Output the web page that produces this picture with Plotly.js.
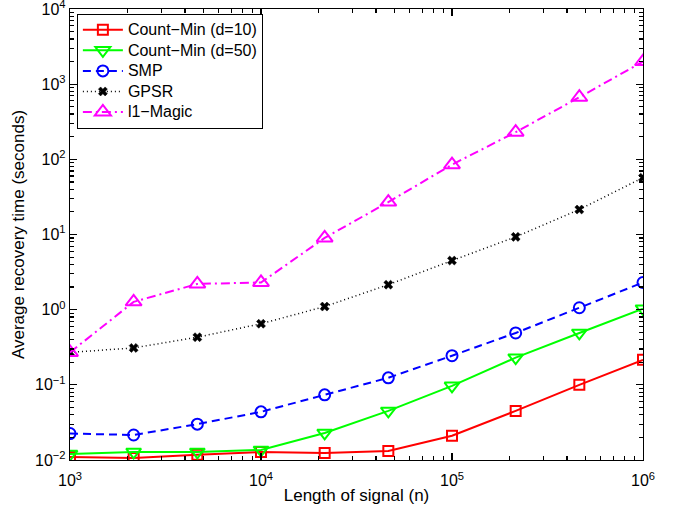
<!DOCTYPE html>
<html><head><meta charset="utf-8">
<script src="https://cdn.plot.ly/plotly-3.0.1.min.js"></script>
<style>body{margin:0;background:#fff}#c{width:678px;height:510px}
.legendtext{font-size:16px !important}</style>
</head><body><div id="c"></div>
<script>
const n = [1000, 2154, 4642, 10000, 21544, 46416, 100000, 215443, 464159, 1000000];
const cm10 = [0.0110, 0.0106, 0.0117, 0.0128, 0.0124, 0.0132, 0.021, 0.045, 0.100, 0.215];
const cm50 = [0.0120, 0.0128, 0.0128, 0.0136, 0.0229, 0.045, 0.097, 0.23, 0.49, 1.03];
const smp = [0.0225, 0.0215, 0.030, 0.0437, 0.0736, 0.124, 0.244, 0.49, 1.06, 2.3];
const gpsr = [0.27, 0.31, 0.43, 0.65, 1.1, 2.15, 4.5, 9.3, 21.5, 57];
const l1magic = [0.27, 1.27, 2.2, 2.3, 9.0, 27, 85, 230, 670, 2000];
const names = ['Count\u2212Min (d=10)', 'Count\u2212Min (d=50)', 'SMP', 'GPSR', 'l1\u2212Magic'];
const xExp = [3, 4, 5, 6];
const yExp = [-2, -1, 0, 1, 2, 3, 4];

const F = 'Liberation Sans, Arial, sans-serif';
function lab(e) { return '10<sup>' + (e < 0 ? '\u2212' + (-e) : e) + '</sup>'; }
function minors(exps) {
  const out = [];
  for (let i = 0; i < exps.length - 1; i++)
    for (let k = 2; k <= 9; k++) out.push(k * Math.pow(10, exps[i]));
  return out;
}
function tr(y, name, color, dash, width, symbol, msize, mline) {
  return {x: n, y: y, name: name, type: 'scatter', mode: 'lines+markers',
    line: {color: color, dash: dash, width: width},
    marker: {symbol: symbol, size: msize, color: color, line: {color: color, width: mline}}};
}
const data = [
  {x: n, y: cm10, xaxis: 'x2', yaxis: 'y2', type: 'scatter', mode: 'lines', opacity: 0,
   showlegend: false, hoverinfo: 'skip', line: {width: 0.1, color: '#fff'}},
  tr(cm10, names[0], '#ff0000', 'solid', 2, 'square-open', 10, 2),
  tr(cm50, names[1], '#00ff00', 'solid', 2, 'triangle-down-open', 13, 2),
  tr(smp, names[2], '#0000ff', '8px,5px', 2, 'circle-open', 11, 2),
  tr(gpsr, names[3], '#000000', '1px,3px', 1.5, 'x', 8, 0.5),
  tr(l1magic, names[4], '#ff00ff', '9px,4px,2px,4px', 2, 'triangle-up-open', 14, 2)
];
function axis(exps, extra) {
  return Object.assign({
    type: 'log', range: [exps[0], exps[exps.length - 1]],
    showline: true, linecolor: '#000', linewidth: 1.2, mirror: 'ticks',
    ticks: 'inside', ticklen: 7, tickwidth: 1.2, tickcolor: '#000', showgrid: false, zeroline: false,
    ticklabeloverflow: 'allow', layer: 'above traces',
    tickmode: 'array', tickvals: exps.map(e => Math.pow(10, e)), ticktext: exps.map(lab),
    tickfont: {family: F, size: 16, color: '#000'}
  }, extra);
}
function minorAxis(exps, extra) {
  return Object.assign({
    type: 'log', range: [exps[0], exps[exps.length - 1]],
    showline: false, mirror: 'ticks', ticks: 'inside', ticklen: 4, tickwidth: 1.2, tickcolor: '#000',
    showgrid: false, zeroline: false, showticklabels: false, layer: 'above traces',
    tickmode: 'array', tickvals: minors(exps)
  }, extra);
}
const layout = {
  width: 678, height: 510, paper_bgcolor: '#fff', plot_bgcolor: 'rgba(0,0,0,0)',
  margin: {l: 70, r: 35, t: 9, b: 50},
  font: {family: F, color: '#000'},
  showlegend: true,
  legend: {x: 0.012, y: 0.99, xanchor: 'left', yanchor: 'top', bgcolor: '#fff',
    bordercolor: '#000', borderwidth: 1, font: {family: F, size: 13.5, color: '#000'},
    tracegroupgap: 0, itemwidth: 40},
  xaxis: axis(xExp, {ticklabelstandoff: 6,
    title: {text: 'Length of signal (n)', font: {family: F, size: 17, color: '#000'}, standoff: 0}}),
  yaxis: axis(yExp, {
    title: {text: 'Average recovery time (seconds)', font: {family: F, size: 17, color: '#000'}, standoff: 6}}),
  xaxis2: minorAxis(xExp, {overlaying: 'x', anchor: 'y2', side: 'bottom'}),
  yaxis2: minorAxis(yExp, {overlaying: 'y', anchor: 'x2', side: 'left'})
};
Plotly.newPlot('c', data, layout, {displayModeBar: false, staticPlot: true});
</script></body></html>
